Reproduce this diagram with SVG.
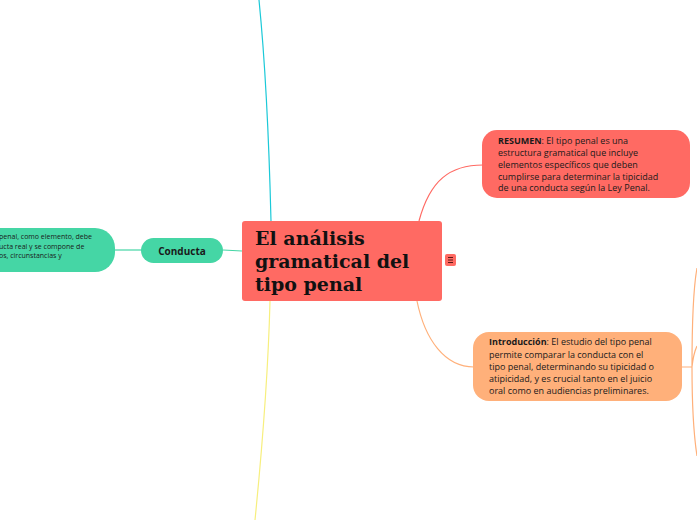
<svg xmlns="http://www.w3.org/2000/svg" width="697" height="520" viewBox="0 0 697 520">
<style>
.t{font-family:"Open Sans","Liberation Sans",sans-serif;fill:#1a1a1a}
.s{font-size:9px}
.l{font-size:7px}
.c{fill:none;stroke-width:1.2}
</style>
<rect width="697" height="520" fill="#fff"/>
<g id="connectors">
<path class="c" stroke="#1BC9D8" d="M271,221 C269,140 265,60 259,0"/>
<path class="c" stroke="#F7EF7E" d="M270,301 C268,380 262,450 255,520"/>
<path class="c" stroke="#45D6A5" d="M223,250 L242,251"/>
<path class="c" stroke="#45D6A5" d="M115,250 L142,250"/>
<path class="c" stroke="#FF6A63" d="M419,221 C430,180 450,165 483,165"/>
<path class="c" stroke="#FFB07A" d="M417,301 C425,340 445,367 474,367"/>
<path class="c" stroke="#FFB07A" stroke-width="1" d="M682,367 L692,367 M692,367 C692,330 693,290 697,268 M692,367 C693,358 695,350 697,346 M692,367 C692,400 693,430 697,456"/>
</g>
<g id="central">
<rect x="242" y="221" width="200" height="80" rx="3" fill="#FF6A63"/>
<text font-family="'DejaVu Serif','Liberation Serif',serif" font-weight="bold" font-size="19" fill="#111">
<tspan x="255" y="245">El análisis</tspan>
<tspan x="255" y="268">gramatical del</tspan>
<tspan x="255" y="291">tipo penal</tspan>
</text>
</g>
<g id="icon">
<rect x="445" y="254" width="11" height="12" rx="2" fill="#FF6A63"/>
<path d="M448,257.5h5M448,260h5M448,262.5h5" stroke="#5a1a16" stroke-width="1"/>
</g>
<g id="resumen">
<rect x="482" y="130" width="208" height="68" rx="15" fill="#FF6A63"/>
<text class="t s">
<tspan x="498" y="144"><tspan font-weight="bold">RESUMEN</tspan>: El tipo penal es una</tspan>
<tspan x="498" y="156">estructura gramatical que incluye</tspan>
<tspan x="498" y="168">elementos específicos que deben</tspan>
<tspan x="498" y="179.5">cumplirse para determinar la tipicidad</tspan>
<tspan x="498" y="191">de una conducta según la Ley Penal.</tspan>
</text>
</g>
<g id="introduccion">
<rect x="473" y="332" width="209" height="69" rx="16" fill="#FFB07A"/>
<text class="t s">
<tspan x="489" y="345"><tspan font-weight="bold">Introducción</tspan>: El estudio del tipo penal</tspan>
<tspan x="489" y="357.5">permite comparar la conducta con el</tspan>
<tspan x="489" y="369.5">tipo penal, determinando su tipicidad o</tspan>
<tspan x="489" y="381.5">atipicidad, y es crucial tanto en el juicio</tspan>
<tspan x="489" y="394">oral como en audiencias preliminares.</tspan>
</text>
</g>
<g id="conducta">
<rect x="141" y="238" width="82" height="25" rx="12.5" fill="#45D6A5"/>
<text class="t" x="182" y="254.5" font-size="10" font-weight="bold" text-anchor="middle">Conducta</text>
</g>
<g id="conducta-detalle">
<rect x="-40" y="228" width="155" height="44" rx="20" fill="#45D6A5"/>
<text class="t l">
<tspan x="-1" y="239">penal, como elemento, debe</tspan>
<tspan x="-1" y="248.5">ucta real y se compone de</tspan>
<tspan x="-1" y="258">os, circunstancias y</tspan>
</text>
</g>
</svg>
